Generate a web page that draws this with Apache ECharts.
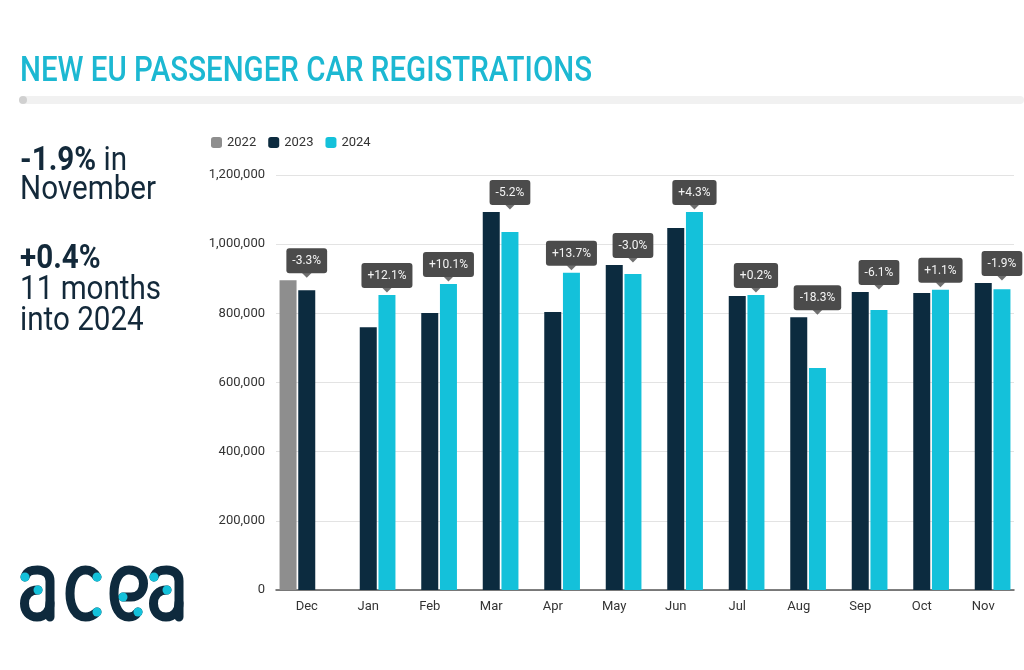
<!DOCTYPE html>
<html><head><meta charset="utf-8">
<script src="https://cdn.jsdelivr.net/npm/echarts@6/dist/echarts.min.js"></script>
<style>html,body{margin:0;padding:0;background:#fff}#c{width:1024px;height:670px}</style>
</head><body><div id="c"></div>
<script>
const categories = ['Dec','Jan','Feb','Mar','Apr','May','Jun','Jul','Aug','Sep','Oct','Nov'];
const values2022 = [896000, null, null, null, null, null, null, null, null, null, null, null];
const values2023 = [867000, 760000, 801000, 1093000, 804000, 940000, 1047000, 850000, 789000, 862000, 859000, 888000];
const values2024 = [null, 853000, 885000, 1035000, 917000, 914000, 1093000, 853000, 642000, 810000, 868000, 870000];
const changeLabels = ['-3.3%','+12.1%','+10.1%','-5.2%','+13.7%','-3.0%','+4.3%','+0.2%','-18.3%','-6.1%','+1.1%','-1.9%'];
const yMax = 1200000, yStep = 200000;

const C22 = '#8e8e8e', C23 = '#0c2b3f', C24 = '#14c1da', NAVY = '#13293a', BOX = '#4b4b4b';
const FONT = 'Roboto, "Noto Sans", sans-serif';
const v = x => (x == null ? '-' : x);

const mctx = document.createElement('canvas').getContext('2d');
function fitScale(text, font, target) { mctx.font = font; return target / mctx.measureText(text).width; }

// the change label sits on the latest year's bar of each month, above the tallest bar of the month
const groupMax = categories.map((_, i) => Math.max(values2022[i] || 0, values2023[i] || 0, values2024[i] || 0));
const padOn2023 = categories.map((_, i) => values2024[i] == null ? groupMax[i] - values2023[i] : '-');
const padOn2024 = categories.map((_, i) => values2024[i] == null ? '-' : groupMax[i] - values2024[i]);

const BAR_W = 17, GAP = 0.1;
const slotShift = BAR_W * (1 + GAP);

const titleFont = '500 35px Roboto';
const titleText = 'NEW EU PASSENGER CAR REGISTRATIONS';
const titleScale = fitScale(titleText, titleFont, 572);
const sideFont = '33px Roboto';
const sideScale = fitScale('November', sideFont, 136);

const LOGO = '#0e2a3d';
const logoPaths = [
  'M25,577 C27,571 31,570 37.5,570 C45,570 50,574 50,581 L50,617',
  'M38,590 C29,590 24.5,596 24.5,603.5 C24.5,611 29,617 37,617 C45,617 50,611 50,603',
  'M97,577 C94,572 90,570 85.5,570 C76,570 70,580 70,593.5 C70,607 76,617 85.5,617 C90,617 94,615 97,612',
  'M123,597 L131,597 C139,597 143.5,591 143.5,583.5 C143.5,575.5 137.5,570 129,570 C119.5,570 114,580 114,593.5 C114,607 119.5,617 129,617 C133,617 136,615 138,612',
  'M154,577 C156,571 160,570 166.5,570 C174,570 179,574 179,581 L179,617',
  'M167,590 C158,590 153.5,596 153.5,603.5 C153.5,611 158,617 166,617 C174,617 179,611 179,603'
];
const logoDots = [[25,577],[38,590],[97,577],[97,612],[123,597],[138,612],[154,577],[167,590]];
const LX = 10, LY = 555;
const logoSvg = '<svg xmlns="http://www.w3.org/2000/svg" width="190" height="75" viewBox="' + LX + ' ' + LY + ' 190 75">' +
  logoPaths.map(d => '<path d="' + d + '" fill="none" stroke="' + LOGO + '" stroke-width="9" stroke-linecap="round" stroke-linejoin="round"/>').join('') +
  logoDots.map(p => '<circle cx="' + p[0] + '" cy="' + p[1] + '" r="4.5" fill="' + C24 + '"/>').join('') + '</svg>';
const logoUrl = 'data:image/svg+xml;charset=utf-8,' + encodeURIComponent(logoSvg);

const chart = echarts.init(document.getElementById('c'), null, {renderer: 'canvas'});
const barBase = {type: 'bar', barWidth: BAR_W, barGap: (GAP * 100) + '%'};
const labelCfg = {
  show: true, position: 'top', distance: 7,
  formatter: p => changeLabels[p.dataIndex],
  backgroundColor: BOX, color: '#f4f4f4', fontSize: 12, fontFamily: FONT,
  padding: [7, 6, 6, 6], borderRadius: 3, lineHeight: 12
};

function sideText(y, text, bold) {
  return {type: 'text', x: 20, y: y, scaleX: sideScale, style: {text: text,
    font: (bold ? 'bold ' : '') + sideFont, fill: NAVY, textVerticalAlign: 'top'}};
}

chart.setOption({
  animation: false,
  backgroundColor: '#fff',
  textStyle: {fontFamily: FONT},
  legend: {
    data: ['2022', '2023', '2024'], left: 206, top: 131,
    itemWidth: 11, itemHeight: 11, itemGap: 12, icon: 'roundRect',
    textStyle: {fontFamily: FONT, fontSize: 13, color: '#333'}
  },
  grid: {left: 276, right: 10, top: 175, bottom: 80, containLabel: false},
  xAxis: {
    type: 'category', data: categories,
    axisLine: {lineStyle: {color: '#555', width: 1.5}},
    axisTick: {show: false},
    axisLabel: {color: '#333', fontSize: 13, margin: 10, fontFamily: FONT}
  },
  yAxis: {
    type: 'value', min: 0, max: yMax, interval: yStep,
    axisLabel: {color: '#333', fontSize: 13, margin: 11, fontFamily: FONT,
      formatter: x => x.toLocaleString('en-US')},
    splitLine: {lineStyle: {color: '#e3e3e3', width: 1}},
    axisLine: {show: false}, axisTick: {show: false}
  },
  series: [
    Object.assign({}, barBase, {name: '2022', stack: 'A', data: values2022.map(v), itemStyle: {color: C22}}),
    Object.assign({}, barBase, {name: '2023', stack: 'B', data: values2023.map(v), itemStyle: {color: C23}}),
    Object.assign({}, barBase, {name: '2024', stack: 'C', data: values2024.map(v), itemStyle: {color: C24}}),
    Object.assign({}, barBase, {name: 'pad23', stack: 'B', data: padOn2023, silent: true,
      itemStyle: {color: 'rgba(0,0,0,0)'}, label: labelCfg}),
    Object.assign({}, barBase, {name: 'pad24', stack: 'C', data: padOn2024, silent: true,
      itemStyle: {color: 'rgba(0,0,0,0)'}, label: labelCfg}),
    {
      type: 'scatter', name: 'pointer', silent: true, z: 3,
      data: groupMax.map((m, i) => ({value: [i, m],
        symbolOffset: [values2024[i] == null ? 0 : slotShift, -5]})),
      symbol: 'triangle', symbolRotate: 180, symbolSize: [10, 5],
      itemStyle: {color: BOX}
    }
  ],
  graphic: [
    {type: 'text', x: 20, y: 55, scaleX: titleScale, style: {text: titleText,
      font: titleFont, fill: '#1cb8d2', textVerticalAlign: 'top'}},
    {type: 'rect', shape: {x: 20, y: 96, width: 1004, height: 8, r: 4}, style: {fill: '#f1f1f1'}},
    {type: 'circle', shape: {cx: 23, cy: 100, r: 4}, style: {fill: '#d0d0d0'}},
    {type: 'text', x: 20, y: 145, scaleX: sideScale, style: {text: '{b|-1.9%}{r| in}', textVerticalAlign: 'top',
      rich: {b: {font: 'bold ' + sideFont, fill: NAVY}, r: {font: sideFont, fill: NAVY}}}},
    sideText(174, 'November', false),
    sideText(243, '+0.4%', true),
    sideText(274, '11 months', false),
    sideText(305, 'into 2024', false),
    {type: 'image', x: LX, y: LY, style: {image: logoUrl, width: 190, height: 75}}
  ]
});
</script></body></html>
